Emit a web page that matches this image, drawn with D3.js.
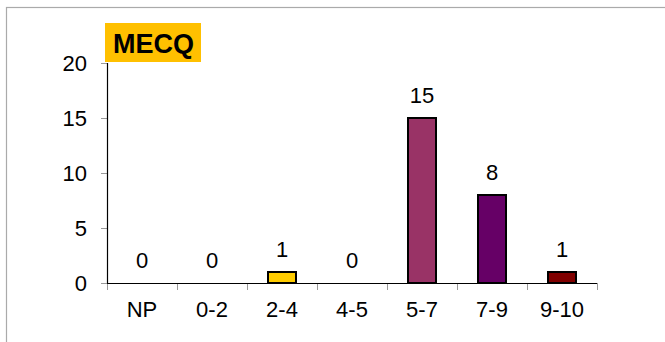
<!DOCTYPE html>
<html><head><meta charset="utf-8">
<script src="https://cdn.jsdelivr.net/npm/d3@7"></script>
<style>html,body{margin:0;padding:0;background:#fff;}svg{display:block;}</style>
</head><body>
<script>
const categories = ["NP","0-2","2-4","4-5","5-7","7-9","9-10"];
const values = [0,0,1,0,15,8,1];
const colors = ["#FFCC00","#FFCC00","#FFCC00","#FFCC00","#993366","#660066","#800000"];
const yTicks = [0,5,10,15,20];
const title = "MECQ";

const W = 665, H = 342;
const svg = d3.select("body").append("svg").attr("width", W).attr("height", H);
const font = "Arial, 'Liberation Sans', sans-serif";

// outer frame
svg.append("rect").attr("x", 6.5).attr("y", 7.5).attr("width", 700).attr("height", 400)
  .attr("fill", "none").attr("stroke", "#aaaaaa").attr("stroke-width", 1.2);

const x0 = 107, x1 = 597, yTop = 63, yBot = 283;
const x = d3.scaleBand().domain(categories).range([x0, x1]).paddingInner(0).paddingOuter(0);
const y = d3.scaleLinear().domain([0, 20]).range([yBot, yTop]);
const barW = 28;
const fs = 22;

// y ticks
const gy = svg.append("g");
gy.selectAll("line.t").data(yTicks).join("line")
  .attr("x1", x0 - 6).attr("x2", x0).attr("y1", d => y(d) + 0.5).attr("y2", d => y(d) + 0.5)
  .attr("stroke", "#999").attr("stroke-width", 1);
gy.selectAll("text").data(yTicks).join("text")
  .attr("x", 87).attr("y", d => y(d)).attr("dy", "0.36em").attr("text-anchor", "end")
  .attr("font-family", font).attr("font-size", fs).attr("fill", "#000").text(d => d);

// x ticks
const xt = categories.map(c => x(c)).concat([x1]);
svg.append("g").selectAll("line").data(xt).join("line")
  .attr("x1", d => d + 0.5).attr("x2", d => d + 0.5).attr("y1", yBot).attr("y2", yBot + 7)
  .attr("stroke", "#999").attr("stroke-width", 1);
svg.append("g").selectAll("text").data(categories).join("text")
  .attr("x", d => x(d) + x.bandwidth() / 2).attr("y", 317).attr("text-anchor", "middle")
  .attr("font-family", font).attr("font-size", fs).attr("fill", "#000").text(d => d);

// bars
const data = categories.map((c, i) => ({c, v: values[i], col: colors[i]}));
svg.append("g").selectAll("rect").data(data.filter(d => d.v > 0)).join("rect")
  .attr("x", d => x(d.c) + x.bandwidth() / 2 - barW / 2)
  .attr("y", d => y(d.v))
  .attr("width", barW).attr("height", d => yBot - y(d.v))
  .attr("fill", d => d.col).attr("stroke", "#000").attr("stroke-width", 2);

// value labels
svg.append("g").selectAll("text").data(data).join("text")
  .attr("x", d => x(d.c) + x.bandwidth() / 2).attr("y", d => y(d.v) - 15)
  .attr("text-anchor", "middle").attr("font-family", font).attr("font-size", fs).attr("fill", "#000")
  .text(d => d.v);

// axes lines
svg.append("line").attr("x1", x0 + 0.5).attr("x2", x0 + 0.5).attr("y1", yTop).attr("y2", yBot)
  .attr("stroke", "#000").attr("stroke-width", 1.2);
svg.append("line").attr("x1", x0).attr("x2", x1).attr("y1", yBot + 0.5).attr("y2", yBot + 0.5)
  .attr("stroke", "#000").attr("stroke-width", 1.2);

// title box
svg.append("rect").attr("x", 105).attr("y", 23).attr("width", 96).attr("height", 39).attr("fill", "#FFC000");
svg.append("text").attr("x", 113).attr("y", 53).attr("font-family", font).attr("font-weight", "bold")
  .attr("font-size", 27).attr("fill", "#000").text(title);
</script>
</body></html>
